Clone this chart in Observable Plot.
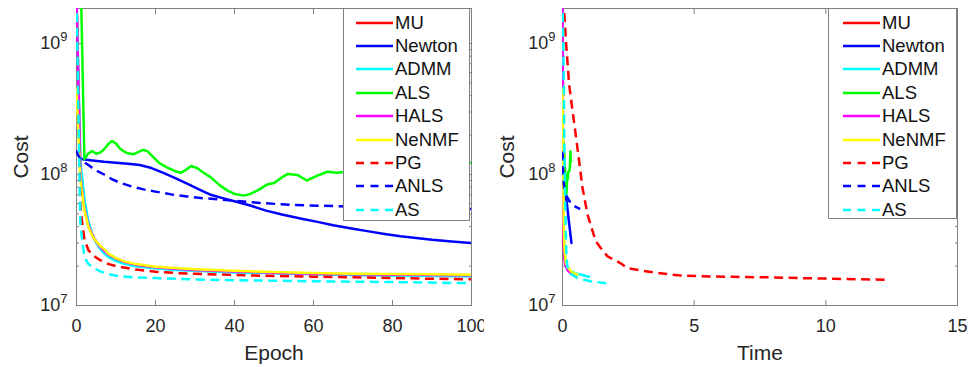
<!DOCTYPE html>
<html><head><meta charset="utf-8">
<script src="https://cdn.jsdelivr.net/npm/d3@7"></script>
<script src="https://cdn.jsdelivr.net/npm/@observablehq/plot@0.6"></script>
<style>
html,body{margin:0;padding:0;background:#fff;}
#wrap{position:relative;width:969px;height:367px;overflow:hidden;font-family:"Liberation Sans",Arial,sans-serif;}
.panel{position:absolute;top:0;}
.legend{position:absolute;background:#fff;border:1px solid #808080;box-sizing:border-box;font-size:18.5px;color:#111;padding-top:2px;}
.legend .row{height:23.4px;display:flex;align-items:center;}
.legend svg{display:block;margin-right:2px;}
</style></head><body><div id="wrap"></div>
<script>
// ---- categories / styles ----
const methods = ["MU","Newton","ADMM","ALS","HALS","NeNMF","PG","ANLS","AS"];
const colors  = ["#ff0000","#0000ff","#00ffff","#00ff00","#ff00ff","#ffff00","#ff0000","#0000ff","#00ffff"];
const dashed  = [false,false,false,false,false,false,true,true,true];

// ---- tick values ----
const yTicks = [1e7, 1e8, 1e9];
const yMinor = [2e7,3e7,4e7,5e7,6e7,7e7,8e7,9e7,2e8,3e8,4e8,5e8,6e8,7e8,8e8,9e8];
const epochTicks = [0,20,40,60,80,100];
const timeTicks = [0,5,10,15];

// ---- Cost vs Epoch: [epoch, cost] ----
const epochMU = [[0,2.2e9],[1,1.0e8],[2,5.6e7],[3,4.1e7],[4,3.45e7],[5,3.05e7],[6,2.78e7],[7,2.58e7],[8,2.42e7],[10,2.24e7],[12,2.12e7],[15,2.02e7],[20,1.94e7],[25,1.89e7],[30,1.85e7],[40,1.8e7],[50,1.77e7],[60,1.74e7],[70,1.72e7],[80,1.7e7],[90,1.69e7],[100,1.68e7]];
const epochNewton = [[0,1.5e8],[1,1.32e8],[2,1.3e8],[4,1.28e8],[7,1.25e8],[10,1.23e8],[13,1.21e8],[16,1.18e8],[19,1.12e8],[22,1.03e8],[25,9.4e7],[28,8.5e7],[31,7.7e7],[34,7.0e7],[37,6.6e7],[40,6.25e7],[44,5.8e7],[48,5.3e7],[52,4.95e7],[57,4.6e7],[61,4.35e7],[65,4.1e7],[70,3.85e7],[74,3.68e7],[78,3.52e7],[82,3.38e7],[86,3.27e7],[90,3.17e7],[95,3.08e7],[100,3.0e7]];
const epochADMM = [[0,2.2e9],[1,1.25e8],[2,6.5e7],[3,4.4e7],[4,3.5e7],[5,3.0e7],[6,2.7e7],[7,2.5e7],[8,2.35e7],[10,2.18e7],[12,2.08e7],[15,1.99e7],[20,1.92e7],[25,1.87e7],[30,1.84e7],[40,1.79e7],[50,1.76e7],[60,1.73e7],[70,1.71e7],[80,1.69e7],[90,1.68e7],[100,1.67e7]];
const epochALS = [[0,4e9],[1,4e9],[2,1.31e8],[3,1.45e8],[4,1.51e8],[5,1.44e8],[6,1.47e8],[7,1.56e8],[8,1.7e8],[9,1.8e8],[10,1.72e8],[11,1.58e8],[12,1.5e8],[13,1.45e8],[14.5,1.43e8],[16,1.5e8],[17,1.54e8],[18,1.5e8],[19.5,1.35e8],[21,1.22e8],[23,1.13e8],[25,1.06e8],[26.4,1.03e8],[28,1.1e8],[29,1.16e8],[30.5,1.12e8],[32,1.04e8],[34,9.5e7],[36,8.4e7],[38,7.6e7],[40,7.1e7],[42.4,6.9e7],[44,7.1e7],[46,7.6e7],[48.3,8.4e7],[50,8.6e7],[52,9.5e7],[53.5,1.01e8],[56,9.9e7],[58.3,9.0e7],[61,9.8e7],[63.5,1.05e8],[66,1.03e8],[70,1.06e8],[75,1.1e8],[80,1.04e8],[85,1.1e8],[90,1.16e8],[95,1.14e8],[100,1.23e8]];
const epochHALS = [[0,2.2e9],[1,9.5e7],[2,5.5e7],[3,4.1e7],[4,3.45e7],[5,3.07e7],[6,2.8e7],[7,2.62e7],[8,2.47e7],[10,2.28e7],[12,2.16e7],[15,2.05e7],[20,1.96e7],[25,1.91e7],[30,1.87e7],[40,1.82e7],[50,1.78e7],[60,1.75e7],[70,1.73e7],[80,1.72e7],[90,1.71e7],[100,1.7e7]];
const epochNeNMF = [[0,4.5e8],[1,9e7],[2,5.3e7],[3,4.0e7],[4,3.4e7],[5,3.08e7],[6,2.85e7],[7,2.7e7],[8,2.5e7],[10,2.3e7],[12,2.18e7],[15,2.07e7],[20,1.98e7],[25,1.93e7],[30,1.89e7],[40,1.84e7],[50,1.8e7],[60,1.77e7],[70,1.75e7],[80,1.74e7],[90,1.73e7],[100,1.72e7]];
const epochPG = [[0,2.2e9],[1,5.5e7],[2,3.2e7],[3,2.65e7],[4,2.45e7],[5,2.32e7],[6,2.22e7],[8,2.08e7],[10,2.0e7],[12,1.95e7],[15,1.88e7],[20,1.81e7],[25,1.77e7],[30,1.745e7],[40,1.71e7],[50,1.68e7],[60,1.66e7],[70,1.64e7],[80,1.62e7],[90,1.6e7],[100,1.585e7]];
const epochANLS = [[0,1.5e8],[1,1.3e8],[3,1.18e8],[5,1.07e8],[7,1.0e8],[9,9.2e7],[11,8.65e7],[14,8.1e7],[17,7.7e7],[20,7.4e7],[24,7.05e7],[28,6.8e7],[32,6.6e7],[40,6.3e7],[47,6.05e7],[55,5.85e7],[65,5.74e7],[80,5.6e7],[100,5.45e7]];
const epochAS = [[0,2.2e9],[1,4e7],[2,2.35e7],[3,2.08e7],[4,1.96e7],[6,1.82e7],[8,1.74e7],[11,1.67e7],[15,1.64e7],[20,1.62e7],[30,1.58e7],[40,1.56e7],[50,1.545e7],[60,1.53e7],[70,1.52e7],[80,1.51e7],[90,1.495e7],[100,1.48e7]];

// ---- Cost vs Time: [time, cost] ----
const timeMU = [[0,2.2e9],[0.01,1.5e8],[0.03,4e7],[0.06,2.6e7],[0.1,2.15e7],[0.2,1.9e7],[0.35,1.75e7],[0.45,1.69e7]];
const timeNewton = [[0,1.5e8],[0.03,1.25e8],[0.08,1.05e8],[0.12,7.5e7],[0.13,6.8e7],[0.17,5.9e7],[0.22,4.8e7],[0.28,3.8e7],[0.34,3.0e7]];
const timeADMM = [[0,2.2e9],[0.02,1.5e8],[0.04,5e7],[0.07,3e7],[0.1,2.3e7],[0.13,1.95e7],[0.25,1.85e7],[0.5,1.76e7],[0.75,1.71e7],[1.01,1.66e7]];
const timeALS = [[0,4e9],[0.004,4e9],[0.008,1.31e8],[0.02,1.5e8],[0.03,1.8e8],[0.05,1.45e8],[0.065,1.5e8],[0.08,1.1e8],[0.1,1.12e8],[0.12,8e7],[0.14,7e7],[0.16,7.6e7],[0.18,1.0e8],[0.2,9.2e7],[0.22,1.05e8],[0.25,1.05e8],[0.28,1.12e8],[0.3,1.5e8],[0.32,1.25e8]];
const timeHALS = [[0,2.2e9],[0.01,4e8],[0.02,1e8],[0.035,4e7],[0.06,2.4e7],[0.1,2.05e7],[0.2,1.85e7],[0.35,1.75e7],[0.5,1.7e7]];
const timeNeNMF = [[0,4.5e8],[0.02,1.5e8],[0.05,4e7],[0.08,2.6e7],[0.12,2.15e7],[0.2,1.95e7],[0.35,1.8e7],[0.57,1.72e7]];
const timePG = [[0,2.2e9],[0.06,1.8e9],[0.13,1.05e9],[0.25,4.9e8],[0.38,3.07e8],[0.5,2.03e8],[0.63,1.27e8],[0.76,7.9e7],[0.95,4.95e7],[1.26,3.1e7],[1.45,2.75e7],[1.71,2.37e7],[2.21,2.1e7],[2.47,1.93e7],[2.97,1.85e7],[3.61,1.77e7],[4.4,1.7e7],[5.25,1.67e7],[6.5,1.655e7],[7.8,1.64e7],[9,1.62e7],[10.3,1.6e7],[11.3,1.585e7],[12.3,1.57e7]];
const timeANLS = [[0,1.5e8],[0.02,1.15e8],[0.05,8.5e7],[0.1,7.3e7],[0.14,6.9e7],[0.3,6.1e7],[0.44,5.75e7],[0.67,5.45e7]];
const timeAS = [[0,2.2e9],[0.02,1.3e9],[0.05,5e8],[0.07,1.6e8],[0.09,9e7],[0.12,4e7],[0.15,2.3e7],[0.2,1.9e7],[0.3,1.75e7],[0.57,1.62e7],[1.07,1.53e7],[1.66,1.48e7]];

const epochSeries = [epochMU,epochNewton,epochADMM,epochALS,epochHALS,epochNeNMF,epochPG,epochANLS,epochAS];
const timeSeries  = [timeMU,timeNewton,timeADMM,timeALS,timeHALS,timeNeNMF,timePG,timeANLS,timeAS];

const axisColor = "#808080";
const textColor = "#262626";
const FONT = "'Liberation Sans', Arial, Helvetica, sans-serif";

function panel({series, xDomain, xTicks, xLabel, width, marginLeft, marginRight, yPad}) {
  const marks = [];
  marks.push(Plot.frame({stroke: axisColor, strokeWidth: 1}));
  // inward ticks on all four sides
  marks.push(Plot.axisX({anchor: "bottom", ticks: xTicks, tickSize: 5, dy: -5, tickFormat: () => "", label: null, stroke: axisColor}));
  marks.push(Plot.axisX({anchor: "top", ticks: xTicks, tickSize: 5, dy: 5, tickFormat: () => "", label: null, stroke: axisColor}));
  marks.push(Plot.axisY({anchor: "left", ticks: yTicks, tickSize: 5, dx: 5, tickFormat: () => "", label: null, stroke: axisColor}));
  marks.push(Plot.axisY({anchor: "right", ticks: yTicks, tickSize: 5, dx: -5, tickFormat: () => "", label: null, stroke: axisColor}));
  marks.push(Plot.axisY({anchor: "left", ticks: yMinor, tickSize: 3, dx: 3, tickFormat: () => "", label: null, stroke: axisColor}));
  marks.push(Plot.axisY({anchor: "right", ticks: yMinor, tickSize: 3, dx: -3, tickFormat: () => "", label: null, stroke: axisColor}));
  // tick labels
  marks.push(Plot.axisX({anchor: "bottom", ticks: xTicks, tickSize: 0, tickPadding: 14, fontSize: 18, fill: textColor, label: null}));
  marks.push(Plot.axisY({anchor: "left", ticks: yTicks, tickSize: 0, tickPadding: yPad, fontSize: 18, fill: textColor,
    tickFormat: d => "10^" + Math.round(Math.log10(d)), label: null}));
  // axis labels
  marks.push(Plot.axisX({anchor: "bottom", ticks: [], tickSize: 0, label: xLabel, labelAnchor: "center", labelArrow: "none", labelOffset: 54, fontSize: 21, fill: textColor}));
  marks.push(Plot.axisY({anchor: "left", ticks: [], tickSize: 0, label: "Cost", labelAnchor: "center", labelArrow: "none", labelOffset: 63, fontSize: 21, fill: textColor}));
  // data lines
  series.forEach((s, i) => {
    marks.push(Plot.line(s, {x: d => d[0], y: d => d[1], stroke: colors[i], strokeWidth: 2.5,
      strokeDasharray: dashed[i] ? "9,5.5" : undefined, strokeLinecap: dashed[i] ? "butt" : "round", clip: true}));
  });
  const svg = Plot.plot({
    width, height: 367, marginLeft, marginRight, marginTop: 8, marginBottom: 62,
    x: {domain: xDomain},
    y: {type: "log", domain: [1e7, 1.85e9]},
    style: {fontFamily: FONT, fontSize: "18px", color: textColor, background: "white", overflow: "visible"},
    marks
  });
  // superscript exponents
  svg.querySelectorAll("text").forEach(t => {
    const m = /^10\^(\d+)$/.exec(t.textContent);
    if (m) {
      t.textContent = "10";
      const ts = document.createElementNS("http://www.w3.org/2000/svg", "tspan");
      ts.setAttribute("dy", "-8");
      ts.setAttribute("font-size", "13");
      ts.textContent = m[1];
      t.appendChild(ts);
    }
  });
  return svg;
}

function legend({left, top, width, height, padLeft}) {
  const div = document.createElement("div");
  div.className = "legend";
  Object.assign(div.style, {left: left + "px", top: top + "px", width: width + "px", height: height + "px", paddingLeft: padLeft + "px"});
  methods.forEach((name, i) => {
    const row = document.createElement("div");
    row.className = "row";
    row.innerHTML = `<svg width="37" height="6"><line x1="0" x2="37" y1="3" y2="3" stroke="${colors[i]}" stroke-width="2.5" ${dashed[i] ? 'stroke-dasharray="8,6.5"' : ''}/></svg><span>${name}</span>`;
    div.appendChild(row);
  });
  return div;
}

const wrap = document.getElementById("wrap");
const left = panel({series: epochSeries, xDomain: [0,100], xTicks: epochTicks, xLabel: "Epoch", width: 484, marginLeft: 76, marginRight: 13, yPad: 9});
left.classList.add("panel"); left.style.left = "0px";
const right = panel({series: timeSeries, xDomain: [0,15], xTicks: timeTicks, xLabel: "Time", width: 485, marginLeft: 78, marginRight: 12, yPad: 7});
right.classList.add("panel"); right.style.left = "484px";
wrap.appendChild(left);
wrap.appendChild(right);
wrap.appendChild(legend({left: 343, top: 8, width: 127, height: 213, padLeft: 12}));
wrap.appendChild(legend({left: 828, top: 8, width: 129, height: 211, padLeft: 14}));
</script></body></html>
